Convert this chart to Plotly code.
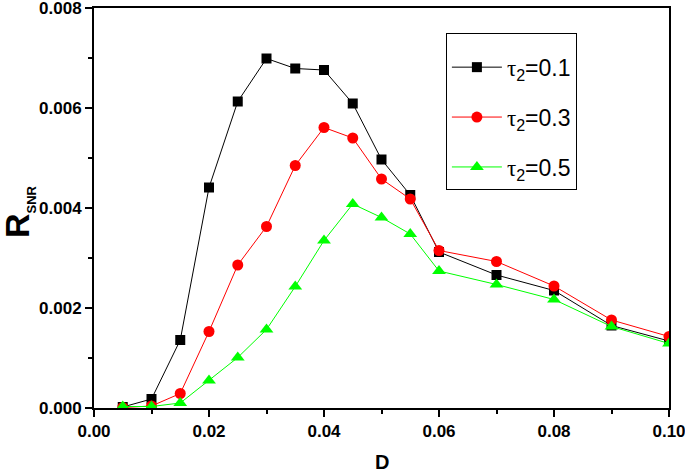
import plotly.graph_objects as go

D = [0.005, 0.01, 0.015, 0.02, 0.025, 0.03, 0.035, 0.04, 0.045, 0.05, 0.055, 0.06, 0.07, 0.08, 0.09, 0.10]
r_tau01 = [0.00002, 0.00018, 0.00136, 0.00441, 0.00613, 0.00699, 0.00679, 0.00676, 0.00609, 0.00497,
           0.00426, 0.00312, 0.00266, 0.00235, 0.00165, 0.00134]
r_tau03 = [0.00001, 0.00004, 0.00029, 0.00153, 0.00286, 0.00363, 0.00485, 0.00561, 0.00540, 0.00458,
           0.00418, 0.00315, 0.00293, 0.00244, 0.00176, 0.00143]
r_tau05 = [0.00003, 0.00003, 0.00010, 0.00055, 0.00101, 0.00157, 0.00243, 0.00335, 0.00408, 0.00381,
           0.00348, 0.00274, 0.00247, 0.00217, 0.00163, 0.00129]
labels = ["0.1", "0.3", "0.5"]
x_ticks = [0.0, 0.02, 0.04, 0.06, 0.08, 0.10]
x_ticktext = ["0.00", "0.02", "0.04", "0.06", "0.08", "0.10"]
y_ticks = [0.0, 0.002, 0.004, 0.006, 0.008]
y_ticktext = ["0.000", "0.002", "0.004", "0.006", "0.008"]
colors = ["#000000", "#FF0000", "#00FF00"]
symbols = ["square", "circle", "triangle-up"]
sizes = [10, 11, 12]

fig = go.Figure()
for i, ys in enumerate([r_tau01, r_tau03, r_tau05]):
    fig.add_trace(go.Scatter(
        x=D, y=ys, mode="lines+markers",
        name='<span style="font-family:Liberation Serif">τ</span><sub>2</sub>=' + labels[i],
        legendgroup="g" + str(i),
        line=dict(color=colors[i], width=1),
        marker=dict(symbol=symbols[i], size=sizes[i], color=colors[i], line=dict(width=0)),
    ))

axis_common = dict(
    showline=True, linecolor="black", linewidth=2, mirror=True,
    ticks="outside", ticklen=7, tickwidth=1.5, tickcolor="black",
    showgrid=False, zeroline=False, ticklabeloverflow="allow", automargin=False,
    tickfont=dict(family="Liberation Sans", size=17, color="black", weight="bold"),
)
fig.update_xaxes(range=[0, 0.10], tickmode="array", tickvals=x_ticks, ticktext=x_ticktext,
                 minor=dict(tickmode="array", tickvals=[0.01, 0.03, 0.05, 0.07, 0.09],
                            ticks="outside", ticklen=4, tickwidth=1.5, tickcolor="black"),
                 **axis_common)
fig.update_yaxes(range=[0, 0.008], tickmode="array", tickvals=y_ticks, ticktext=y_ticktext,
                 minor=dict(tickmode="array", tickvals=[0.001, 0.003, 0.005, 0.007],
                            ticks="outside", ticklen=4, tickwidth=1.5, tickcolor="black"),
                 **axis_common)

fig.update_layout(
    width=685, height=471,
    margin=dict(l=94, r=16, t=8, b=63),
    plot_bgcolor="white", paper_bgcolor="white",
    legend=dict(
        x=0.612, y=0.9375, xanchor="left", yanchor="top",
        bordercolor="black", borderwidth=1, bgcolor="white",
        font=dict(family="Liberation Sans", size=23, color="black"),
        title=dict(text=" ", font=dict(size=9)),
        tracegroupgap=17, itemwidth=50,
    ),
    annotations=[
        dict(text="D", xref="paper", yref="paper", x=0.5, y=-0.135, yanchor="middle",
             showarrow=False, font=dict(family="Liberation Sans", size=20, color="black", weight="bold")),
        dict(text='R<sub><span style="font-size:13px">SNR</span></sub>', xref="paper", yref="paper",
             x=-0.132, y=0.49, textangle=-90, xanchor="center", yanchor="middle",
             showarrow=False, font=dict(family="Liberation Sans", size=34, color="black", weight="bold")),
    ],
)

fig.write_html("out.html", config={"displayModeBar": False},
               post_script="document.body.style.margin='0';document.body.style.padding='0';")
